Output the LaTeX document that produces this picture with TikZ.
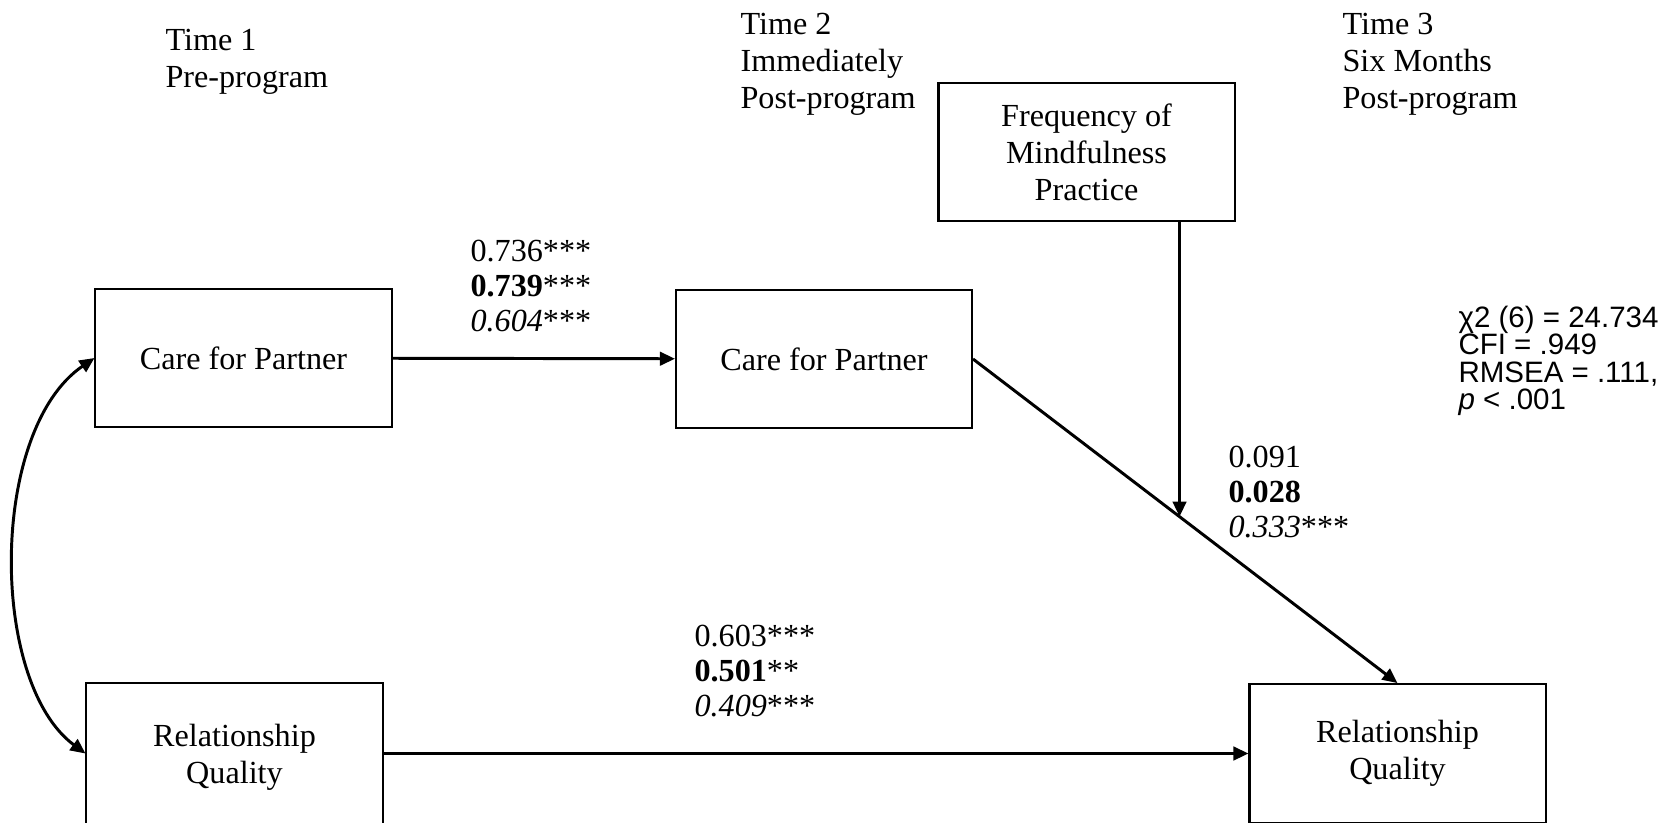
\documentclass[tikz,border=0pt]{standalone}
\usepackage{fontspec}
\setmainfont{Liberation Serif}
\newfontfamily\arialfont{Liberation Sans}
\usetikzlibrary{arrows.meta,calc}
\tikzset{
    var/.style={draw,line width=0.75pt,minimum width=3.88cm,minimum height=1.82cm,align=center,inner sep=0pt},
    path/.style={line width=1.1pt,-{Triangle[length=5.6pt,width=5pt]}},
    txt/.style={anchor=west,align=left,inner sep=0pt},
    coef/.style={txt,font=\fontsize{12}{12.9}\selectfont},
    fitline/.style={anchor=base west,inner sep=0pt,font=\arialfont\fontsize{11}{13}\selectfont}
}

\begin{document}
\begin{tikzpicture}[x=0.0131cm,y=-0.0131cm,font=\fontsize{12}{13.8}\selectfont]
    \useasboundingbox (0,0) rectangle (1672,822);
    % time points
    \node[txt] (t1) at (165,62) {Time 1\\Pre-program};
    \node[txt] (t2) at (740,64) {Time 2\\Immediately\\Post-program};
    \node[txt] (t3) at (1342,64) {Time 3\\Six Months\\Post-program};
    % variables
    \node[var] (freq) at (1086.5,152) {Frequency of\\Mindfulness\\Practice};
    \node[var] (care1) at (243.5,358) {Care for Partner};
    \node[var] (care2) at (824,359) {Care for Partner};
    \node[var,minimum height=1.96cm] (rq1) at (234.5,757.5) {Relationship\\Quality};
    \node[var] (rq3) at (1397.5,753.5) {Relationship\\Quality};
    % paths
    \draw[path] (care1) -- (care2);
    \draw[path] (rq1.east |- rq3.west) -- (rq3.west);
    \draw[path] (care2.east) -- (rq3.north);
    \coordinate (hit) at ($(care2.east)!0.4865!(rq3.north)$);
    \draw[path] (freq.south -| hit) -- (hit);
    \draw[line width=1.1pt,{Triangle[length=5.6pt,width=5pt]}-{Triangle[length=5.6pt,width=5pt]}]
        (care1.west) .. controls (-11,430) and (-11,682) .. (rq1.west |- rq3.west);
    % coefficients
    \node[coef] (b1) at (470,286) {0.736***\\\textbf{0.739}***\\\textit{0.604}***};
    \node[coef] (b2) at (694,671) {0.603***\\\textbf{0.501}**\\\textit{0.409}***};
    \node[coef] (b3) at (1228,492) {0.091\\\textbf{0.028}\\\textit{0.333}***};
    % model fit
    \node[fitline] (fit1) at (1458,327) {χ2 (6) = 24.734};
    \node[fitline] (fit2) at (1458,354.6) {CFI = .949};
    \node[fitline] (fit3) at (1458,382.2) {RMSEA = .111,};
    \node[fitline] (fit4) at (1458,409.8) {\textit{p} < .001};
\end{tikzpicture}
\end{document}
